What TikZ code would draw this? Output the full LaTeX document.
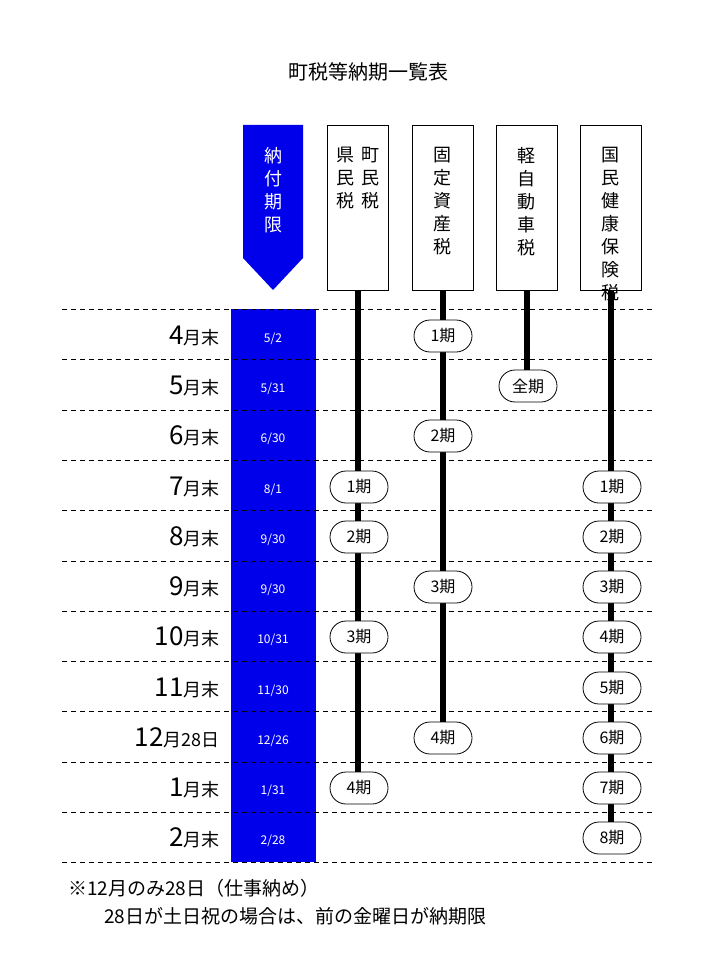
\documentclass[tikz,border=0pt]{standalone}
\usepackage{fontspec}
\setmainfont{Noto Sans CJK JP}
\begin{document}
\begin{tikzpicture}[x=1pt,y=-1pt,
  hdr/.style={draw,line width=0.8pt,fill=white,minimum width=61pt,minimum height=165pt,anchor=north,inner sep=0pt},
  vt/.style={align=center,font=\fontsize{18}{23}\selectfont,anchor=north,inner sep=0pt},
  per/.style={draw,line width=0.8pt,fill=white,rounded corners=16pt,minimum width=58pt,minimum height=32pt,font=\fontsize{16}{18}\selectfont,inner sep=0pt},
  bar/.style={line width=6pt},
  dl/.style={line width=0.8pt,dash pattern=on 5pt off 4pt},
  mon/.style={anchor=east,inner sep=0pt},
  dt/.style={text=white,font=\fontsize{12}{14}\selectfont}]
\useasboundingbox (0,0) rectangle (720,960);
\node (title) at (368,72) {\fontsize{20}{22}\selectfont 町税等納期一覧表};
% blue column
\fill[blue!92!black] (231,309) rectangle (316,862);
\fill[blue!92!black] (243,125) -- (303,125) -- (303,258) -- (273,290) -- (243,258) -- cycle;
\node[vt,text=white] (nofu) at (273,147) {納\\付\\期\\限};
% dashed lines
\foreach \y in {309,359,410,460,510,561,611,661,711,762,812,862}
  \draw[dl] (62,\y) -- (655,\y);
% months and dates
\foreach \y/\m/\s/\d [count=\i] in {336/4/月末/5\slash 2,386/5/月末/5\slash 31,436/6/月末/6\slash 30,487/7/月末/8\slash 1,537/8/月末/9\slash 30,587/9/月末/9\slash 30,637/10/月末/10\slash 31,688/11/月末/11\slash 30,738/12/月28日/12\slash 26,788/1/月末/1\slash 31,838/2/月末/2\slash 28}{
  \node[mon] (m\i) at (220,\y) {\fontsize{26}{28}\selectfont{\m}\fontsize{18}{20}\selectfont{\s}};
  \node[dt] (d\i) at (273,\y+3) {\d};
}
% headers
\node[hdr] (h1) at (357.5,125) {};
\node[hdr] (h2) at (442.5,125) {};
\node[hdr] (h3) at (526.5,125) {};
\node[hdr] (h4) at (610.5,125) {};
\node[vt] (t1a) at (370,147) {町\\民\\税};
\node[vt] (t1b) at (345,147) {県\\民\\税};
\node[vt] (t2) at (442.5,147) {固\\定\\資\\産\\税};
\node[vt] (t3) at (526.5,147) {軽\\自\\動\\車\\税};
\node[vt] (t4) at (610.5,147) {国\\民\\健\\康\\保\\険\\税};
% period positions
\coordinate (a1) at (359,487);
\coordinate (a2) at (359,537);
\coordinate (a3) at (359,637);
\coordinate (a4) at (359,788);
\coordinate (b1) at (443,336);
\coordinate (b2) at (443,436);
\coordinate (b3) at (443,587);
\coordinate (b4) at (443,738);
\coordinate (c1) at (528,386);
\foreach \i/\y in {1/487,2/537,3/587,4/637,5/688,6/738,7/788,8/838}
  \coordinate (e\i) at (612,\y);
% bars
\draw[bar] (h1.south) -- (h1.south |- a4);
\draw[bar] (h2.south) -- (h2.south |- b4);
\draw[bar] (h3.south) -- (h3.south |- c1);
\draw[bar] (h4.south) -- (h4.south |- e8);
% period nodes
\node[per] (pa1) at (a1) {1期};\node[per] (pa2) at (a2) {2期};\node[per] (pa3) at (a3) {3期};\node[per] (pa4) at (a4) {4期};
\node[per] (pb1) at (b1) {1期};\node[per] (pb2) at (b2) {2期};\node[per] (pb3) at (b3) {3期};\node[per] (pb4) at (b4) {4期};
\node[per] (pc1) at (c1) {全期};
\foreach \i in {1,...,8} \node[per] (pe\i) at (e\i) {{\i}期};
% note
\node[anchor=west,inner sep=0pt] (n1) at (68,888) {\fontsize{19}{21}\selectfont ※12月のみ28日（仕事納め）};
\node[anchor=west,inner sep=0pt] (n2) at (104,916) {\fontsize{19}{21}\selectfont 28日が土日祝の場合は、前の金曜日が納期限};
\end{tikzpicture}
\end{document}
